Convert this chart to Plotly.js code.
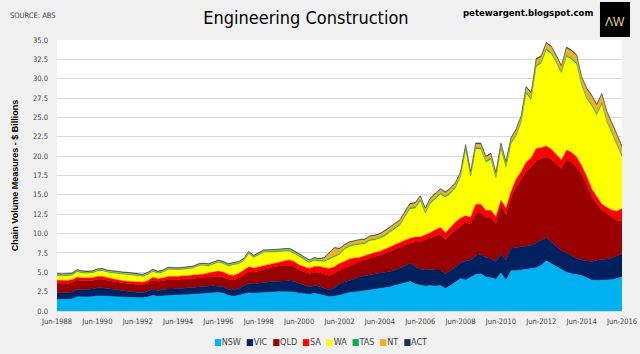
<!DOCTYPE html>
<html>
<head>
<meta charset="utf-8">
<script src="https://cdn.plot.ly/plotly-3.0.1.min.js"></script>
<style>
  html, body { margin: 0; padding: 0; background: #f0f0f0; }
  #chart { width: 640px; height: 354px; }
</style>
</head>
<body>
<div id="chart"></div>
<script>
// Quarterly engineering construction by state, chain volume measures ($ billions), Jun-1988 .. Jun-2016
const startYear = 1988;
const quarterMonths = ['Jun', 'Sep', 'Dec', 'Mar'];
const nQuarters = 113;

const tickLabels = ['Jun-1988','Jun-1990','Jun-1992','Jun-1994','Jun-1996','Jun-1998','Jun-2000',
  'Jun-2002','Jun-2004','Jun-2006','Jun-2008','Jun-2010','Jun-2012','Jun-2014','Jun-2016'];

const seriesNames = ['NSW', 'VIC', 'QLD', 'SA', 'WA', 'TAS', 'NT', 'ACT'];
const seriesColors = ['#00b0f0', '#002060', '#990000', '#ff0000', '#ffff00', '#00b050', '#f0b020', '#1f2d5a'];

const NSW = [
1.5,1.5,1.5,1.55, 1.85,1.8,1.8,1.85, 1.95,1.95,1.9,1.85, 1.8,1.75,1.75,1.75,
1.7,1.7,1.8,2.0, 1.9,1.95,2.0,2.0, 2.05,2.1,2.1,2.15, 2.2,2.25,2.3,2.35,
2.4,2.3,2.0,1.9, 2.0,2.2,2.35,2.3, 2.35,2.4,2.45,2.5, 2.5,2.5,2.5,2.45,
2.3,2.25,2.15,2.3, 2.2,2.0,1.85,1.9, 2.05,2.2,2.4,2.45, 2.5,2.6,2.7,2.8,
2.9,3.0,3.1,3.3, 3.5,3.6,3.8,3.5, 3.3,3.2,3.3,3.2, 3.3,2.9,3.3,3.8,
4.2,4.0,4.3,4.7, 4.8,4.4,4.3,4.1, 4.9,4.0,5.2,5.2, 5.3,5.4,5.5,5.6,
5.9,6.5,6.1,5.7, 5.3,5.0,4.8,4.7, 4.6,4.3,4.0,3.95, 4.0,4.0,4.05,4.2,
4.4];

const VIC = [
0.87,0.85,0.85,0.9, 0.95,0.95,1.0,1.0, 1.05,1.05,1.0,0.95, 0.9,0.85,0.8,0.75,
0.7,0.7,0.75,0.8, 0.75,0.8,0.85,0.85, 0.85,0.9,0.9,0.95, 0.95,0.95,0.95,0.9,
0.8,0.8,0.8,0.8, 0.9,1.05,1.25,1.2, 1.25,1.3,1.3,1.3, 1.35,1.4,1.4,1.35,
1.3,1.1,0.95,1.0, 1.0,0.95,0.85,1.1, 1.5,1.55,1.6,1.7, 1.9,1.95,2.0,2.0,
2.0,2.0,2.0,2.0, 2.0,2.2,2.4,2.2, 2.1,2.1,2.1,2.1, 2.0,1.9,1.9,1.9,
2.0,2.5,2.3,2.5, 2.5,2.5,2.5,2.3, 2.5,2.6,2.9,3.0, 3.0,3.0,3.0,3.2,
3.2,3.0,2.8,2.6, 2.5,2.5,2.3,2.1, 2.0,2.2,2.4,2.6, 2.6,2.7,2.8,2.9,
3.0];

const QLD = [
1.2,1.2,1.2,1.2, 1.2,1.15,1.1,1.1, 1.1,1.1,1.05,1.05, 1.05,1.0,1.0,1.0,
1.0,1.0,1.05,1.2, 1.15,1.15,1.2,1.2, 1.15,1.15,1.15,1.1, 1.1,1.1,1.15,1.2,
1.25,1.25,1.3,1.3, 1.35,1.4,1.5,1.5, 1.6,1.7,1.8,1.9, 1.95,2.0,2.0,1.9,
1.7,1.7,1.7,1.7, 1.75,1.8,1.9,1.8, 1.7,1.8,1.9,2.0, 2.0,2.1,2.2,2.25,
2.3,2.45,2.6,2.7, 2.8,2.7,2.55,3.2, 3.5,3.9,4.0,4.4, 4.6,4.4,4.6,4.8,
4.7,5.0,4.6,5.4, 5.4,5.1,5.2,4.9, 6.3,5.8,6.5,7.8, 8.7,9.6,10.1,10.6,
10.6,10.4,10.7,10.7, 10.6,12.0,12.1,11.8, 11.0,9.8,8.4,7.25, 6.4,5.9,5.25,4.6,
4.3];

const SA = [
0.4,0.4,0.4,0.4, 0.35,0.35,0.35,0.35, 0.35,0.35,0.35,0.3, 0.3,0.3,0.3,0.3,
0.3,0.3,0.3,0.35, 0.35,0.35,0.4,0.4, 0.4,0.4,0.4,0.45, 0.45,0.45,0.5,0.55,
0.7,0.65,0.6,0.6, 0.6,0.6,0.6,0.55, 0.5,0.5,0.45,0.45, 0.5,0.6,0.7,0.7,
0.65,0.65,0.7,0.75, 0.8,0.85,0.9,0.9, 0.9,0.85,0.8,0.7, 0.5,0.5,0.5,0.5,
0.5,0.55,0.6,0.65, 0.65,0.65,0.65,0.65, 0.65,0.6,0.7,0.8, 0.9,0.9,1.0,1.0,
1.1,0.8,0.9,1.2, 1.1,1.0,1.0,0.9, 0.6,0.9,0.8,1.0, 1.0,1.2,1.2,1.6,
1.4,1.4,1.3,1.2, 1.1,1.3,1.3,1.3, 1.2,1.1,1.0,1.0, 0.8,0.8,0.9,1.2,
1.5];

const WA = [
0.56,0.53,0.58,0.53, 0.68,0.63,0.58,0.58, 0.68,0.73,0.68,0.73, 0.78,0.83,0.83,0.78,
0.78,0.73,0.78,0.73, 0.68,0.73,0.88,0.83, 0.83,0.78,0.83,0.83, 1.08,1.13,0.85,0.95,
1.1,1.05,1.05,1.35, 1.2,1.2,1.65,1.3, 1.55,1.65,1.55,1.45, 1.35,1.15,1.1,1.0,
1.1,0.9,0.7,0.75, 0.65,0.75,1.15,1.25, 1.1,1.55,1.6,1.6, 1.7,1.5,1.65,1.6,
1.65,1.65,1.83,1.88, 2.08,2.98,3.73,3.68, 4.58,2.73,3.73,3.93, 4.23,4.53,4.33,4.33,
5.23,8.43,5.13,7.13, 7.05,6.15,6.55,4.85, 6.55,5.15,6.15,5.55, 6.25,8.85,7.45,10.55,
10.85,12.35,12.25,11.75, 11.15,12.05,11.95,11.95, 10.25,9.95,10.65,10.45, 12.85,10.95,9.85,8.65,
6.65];

const TAS = [
0.12,0.12,0.12,0.12, 0.12,0.12,0.12,0.12, 0.12,0.12,0.12,0.12, 0.12,0.12,0.12,0.12,
0.12,0.12,0.12,0.12, 0.12,0.12,0.12,0.12, 0.12,0.12,0.12,0.12, 0.12,0.12,0.13,0.13,
0.13,0.13,0.13,0.13, 0.13,0.13,0.13,0.13, 0.13,0.13,0.13,0.13, 0.13,0.15,0.15,0.15,
0.15,0.15,0.15,0.15, 0.15,0.15,0.15,0.15, 0.15,0.15,0.15,0.15, 0.15,0.15,0.15,0.15,
0.15,0.2,0.2,0.2, 0.2,0.2,0.2,0.2, 0.2,0.2,0.2,0.2, 0.2,0.2,0.2,0.2,
0.2,0.2,0.2,0.2, 0.2,0.2,0.2,0.2, 0.2,0.2,0.2,0.2, 0.2,0.2,0.2,0.2,
0.2,0.2,0.2,0.2, 0.2,0.2,0.2,0.2, 0.2,0.2,0.2,0.2, 0.2,0.2,0.2,0.2,
0.2];

const NT = [
0.1,0.1,0.1,0.1, 0.1,0.1,0.1,0.1, 0.1,0.1,0.1,0.1, 0.1,0.1,0.1,0.1,
0.1,0.1,0.1,0.1, 0.1,0.1,0.1,0.1, 0.1,0.1,0.1,0.1, 0.1,0.1,0.12,0.12,
0.12,0.12,0.12,0.12, 0.12,0.12,0.12,0.12, 0.12,0.12,0.12,0.12, 0.12,0.15,0.15,0.15,
0.15,0.15,0.15,0.15, 0.15,0.3,0.7,1.0, 0.6,0.4,0.4,0.4, 0.4,0.4,0.4,0.4,
0.4,0.45,0.45,0.45, 0.45,0.45,0.45,0.45, 0.45,0.45,0.45,0.45, 0.45,0.45,0.45,0.45,
0.45,0.45,0.45,0.45, 0.5,0.5,0.5,0.5, 0.5,0.5,0.5,0.6, 0.6,0.6,0.6,0.7,
0.7,0.7,0.7,0.7, 0.7,0.9,0.9,0.9, 0.9,1.1,1.1,1.1, 1.1,1.1,1.1,1.1,
1.1];

const ACT = [
0.1,0.1,0.1,0.1, 0.1,0.1,0.1,0.1, 0.1,0.1,0.1,0.1, 0.1,0.1,0.1,0.1,
0.1,0.1,0.1,0.1, 0.1,0.1,0.1,0.1, 0.1,0.1,0.1,0.1, 0.1,0.1,0.1,0.1,
0.1,0.1,0.1,0.1, 0.1,0.1,0.1,0.1, 0.1,0.1,0.1,0.1, 0.1,0.1,0.1,0.1,
0.1,0.1,0.1,0.1, 0.1,0.1,0.1,0.1, 0.1,0.1,0.1,0.1, 0.1,0.1,0.1,0.1,
0.1,0.12,0.12,0.12, 0.12,0.12,0.12,0.12, 0.12,0.12,0.12,0.12, 0.12,0.12,0.12,0.12,
0.12,0.12,0.12,0.12, 0.15,0.15,0.15,0.15, 0.15,0.15,0.15,0.15, 0.15,0.15,0.15,0.15,
0.15,0.15,0.15,0.15, 0.15,0.15,0.15,0.15, 0.15,0.15,0.15,0.15, 0.15,0.15,0.15,0.15,
0.15];

// quarterly category labels
const quarters = [];
for (let i = 0; i < nQuarters; i++) {
  const q = i % 4;
  const yr = startYear + Math.floor(i / 4) + (q === 3 ? 1 : 0);
  quarters.push(quarterMonths[q] + '-' + yr);
}

const seriesValues = [NSW, VIC, QLD, SA, WA, TAS, NT, ACT];
const traces = seriesNames.map((name, k) => ({
  type: 'scatter',
  mode: 'lines',
  name: name,
  x: quarters,
  y: seriesValues[k],
  stackgroup: 'one',
  line: { width: 0.5, color: seriesColors[k] },
  fillcolor: seriesColors[k],
  hoverinfo: 'x+y+name'
}));

const narrow = '"Liberation Sans Narrow", "Arial Narrow", "DejaVu Sans Condensed", sans-serif';

const legendText = seriesNames.map((n, k) =>
  '<span style="color:' + seriesColors[k] + '">■</span>' + n).join('  ');

const layout = {
  width: 640,
  height: 354,
  margin: { l: 57, r: 18, t: 40, b: 43 },
  paper_bgcolor: '#f0f0f0',
  plot_bgcolor: '#ffffff',
  font: { family: narrow, size: 8, color: '#404040' },
  showlegend: false,
  title: {
    text: 'Engineering Construction',
    font: { family: narrow, size: 18, color: '#000000' },
    xref: 'container', x: 0.478, xanchor: 'center',
    yref: 'container', y: 0.95, yanchor: 'middle'
  },
  xaxis: {
    type: 'category',
    range: [0, nQuarters - 1],
    tickmode: 'array',
    tickvals: tickLabels,
    ticktext: tickLabels,
    showgrid: false,
    showline: true,
    linecolor: '#d9d9d9',
    ticks: '',
    ticklabelstandoff: 3,
    tickfont: { family: narrow, size: 7.5, color: '#404040' },
    tickangle: 0
  },
  yaxis: {
    range: [0, 35],
    tick0: 0,
    dtick: 2.5,
    tickformat: '.1f',
    showgrid: true,
    gridcolor: '#d9d9d9',
    gridwidth: 1,
    zeroline: false,
    showline: false,
    ticks: '',
    ticklabelstandoff: 8,
    tickfont: { family: narrow, size: 7.5, color: '#404040' },
    title: {
      text: '<b>Chain Volume Measures - $ Billions</b>',
      font: { family: 'Liberation Sans, Arial, sans-serif', size: 9, color: '#000000' },
      standoff: 12
    }
  },
  shapes: [
    { type: 'rect', xref: 'paper', yref: 'paper', x0: 0.961, x1: 1.0142, y0: 1.011, y1: 1.140,
      fillcolor: '#000000', line: { width: 0 }, layer: 'above' }
  ],
  annotations: [
    { text: 'SOURCE: ABS', xref: 'paper', yref: 'paper', x: -0.087, y: 1.089,
      xanchor: 'left', yanchor: 'middle', showarrow: false,
      font: { family: narrow, size: 7.5, color: '#404040' } },
    { text: '<b>petewargent.blogspot.com</b>', xref: 'paper', yref: 'paper', x: 0.952, y: 1.103,
      xanchor: 'right', yanchor: 'middle', showarrow: false,
      font: { family: narrow, size: 9.5, color: '#000000' } },
    { text: 'ΛW', xref: 'paper', yref: 'paper', x: 0.9876, y: 1.066,
      xanchor: 'center', yanchor: 'middle', showarrow: false,
      font: { family: 'Liberation Sans, Arial, sans-serif', size: 12, color: '#e2d3a0' } },
    { text: legendText, xref: 'paper', yref: 'paper', x: 0.4655, y: -0.114,
      xanchor: 'center', yanchor: 'middle', showarrow: false,
      font: { family: narrow, size: 9, color: '#404040' } }
  ]
};

Plotly.newPlot('chart', traces, layout, { displayModeBar: false, staticPlot: true });
</script>
</body>
</html>
